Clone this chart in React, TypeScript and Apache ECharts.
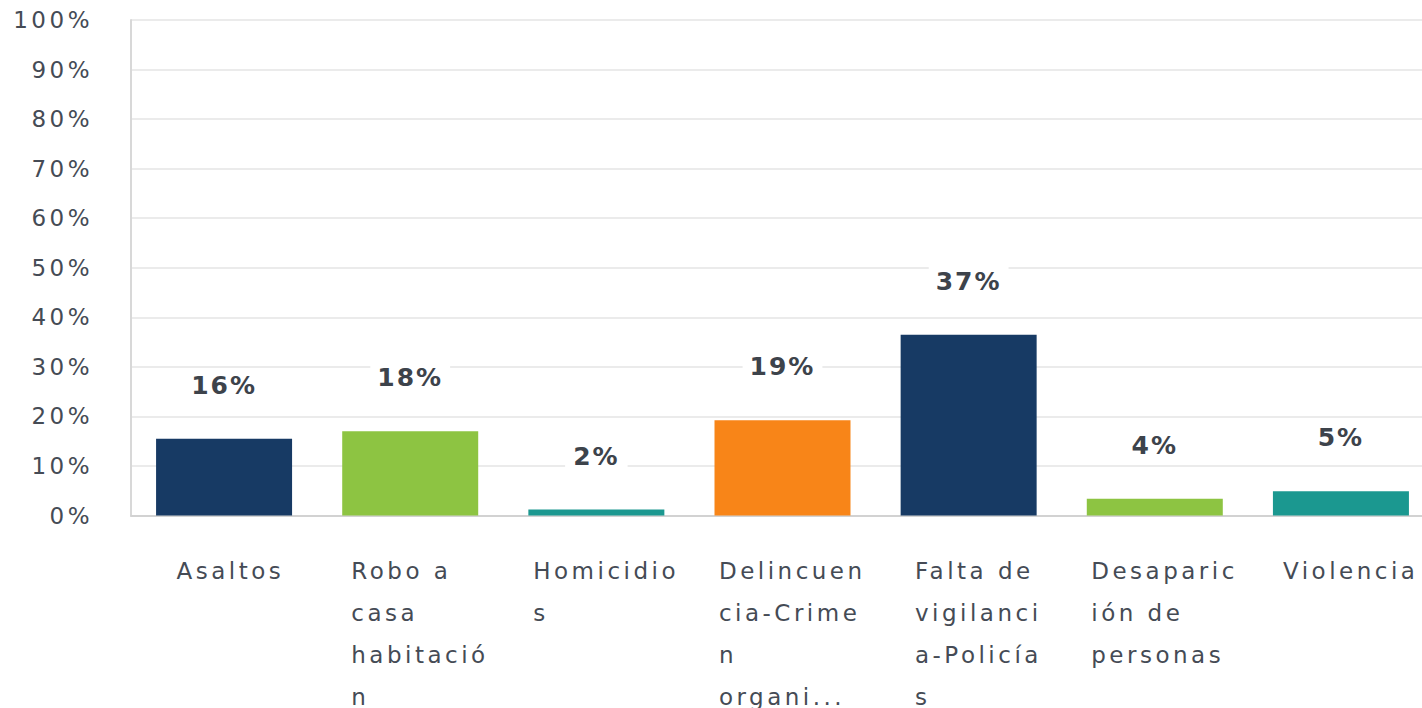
import React, { useEffect, useRef } from "react";
import * as echarts from "echarts";

const categories = [
  "Asaltos",
  "Robo a casa habitación",
  "Homicidios",
  "Delincuencia-Crimen organizado",
  "Falta de vigilancia-Policías",
  "Desaparición de personas",
  "Violencia",
];
const tickLabels = [
  "Asaltos",
  "Robo a\ncasa\nhabitació\nn",
  "Homicidio\ns",
  "Delincuen\ncia-Crime\nn\norgani...",
  "Falta de\nvigilanci\na-Policía\ns",
  "Desaparic\nión de\npersonas",
  "Violencia",
];
const values = [15.5, 17.0, 1.2, 19.2, 36.5, 3.4, 4.9];
const valueLabels = ["16%", "18%", "2%", "19%", "37%", "4%", "5%"];
const barColors = ["#173a64", "#8dc442", "#1b9890", "#f88518", "#173a64", "#8dc442", "#1b9890"];

const FONT = "'DejaVu Sans', sans-serif";

export default function App() {
  const ref = useRef<HTMLDivElement>(null);
  useEffect(() => {
    document.body.style.margin = "0";
    document.body.style.overflow = "hidden";
    const chart = echarts.init(ref.current!, null, { renderer: "svg" });
    chart.setOption({
      animation: false,
      backgroundColor: "#ffffff",
      grid: { left: 131, right: 1, top: 20, bottom: 192, containLabel: false },
      xAxis: {
        type: "category",
        data: categories,
        axisLine: { show: true, lineStyle: { color: "#d2d2d2", width: 2 } },
        axisTick: { show: false },
        axisLabel: {
          interval: 0,
          margin: 34,
          align: "center",
          verticalAlign: "top",
          padding: [0, 12, 0, 0],
          formatter: (_v: string, idx: number) =>
            tickLabels[idx].split("\n").map((l) => `{l|${l}}`).join("\n"),
          rich: {
            l: { align: "left", fontSize: 23, lineHeight: 42, color: "#454b55", fontFamily: FONT },
          },
        },
      },
      yAxis: {
        type: "value",
        min: 0,
        max: 100,
        interval: 10,
        axisLine: { show: true, lineStyle: { color: "#d8d8d8", width: 2 } },
        axisTick: { show: false },
        splitLine: { lineStyle: { color: "#ebebeb", width: 2 } },
        axisLabel: {
          formatter: "{value}%",
          fontSize: 23,
          color: "#454b55",
          fontFamily: FONT,
          margin: 38,
        },
      },
      series: [
        {
          type: "bar",
          barWidth: 136,
          data: values.map((v, i) => ({
            value: v,
            itemStyle: { color: barColors[i] },
            label: { formatter: valueLabels[i] },
          })),
          label: {
            show: true,
            position: "top",
            distance: 37,
            fontSize: 25,
            fontWeight: "bold",
            color: "#3d434b",
            fontFamily: FONT,
            backgroundColor: "#ffffff",
            padding: [4, 10],
          },
        },
      ],
    });
    return () => chart.dispose();
  }, []);
  return (
    <>
      <style>{"#chart text{letter-spacing:3.5px} #chart text[style*='bold']{letter-spacing:2px}"}</style>
      <div id="chart" ref={ref} style={{ width: 1435, height: 708 }} />
    </>
  );
}
